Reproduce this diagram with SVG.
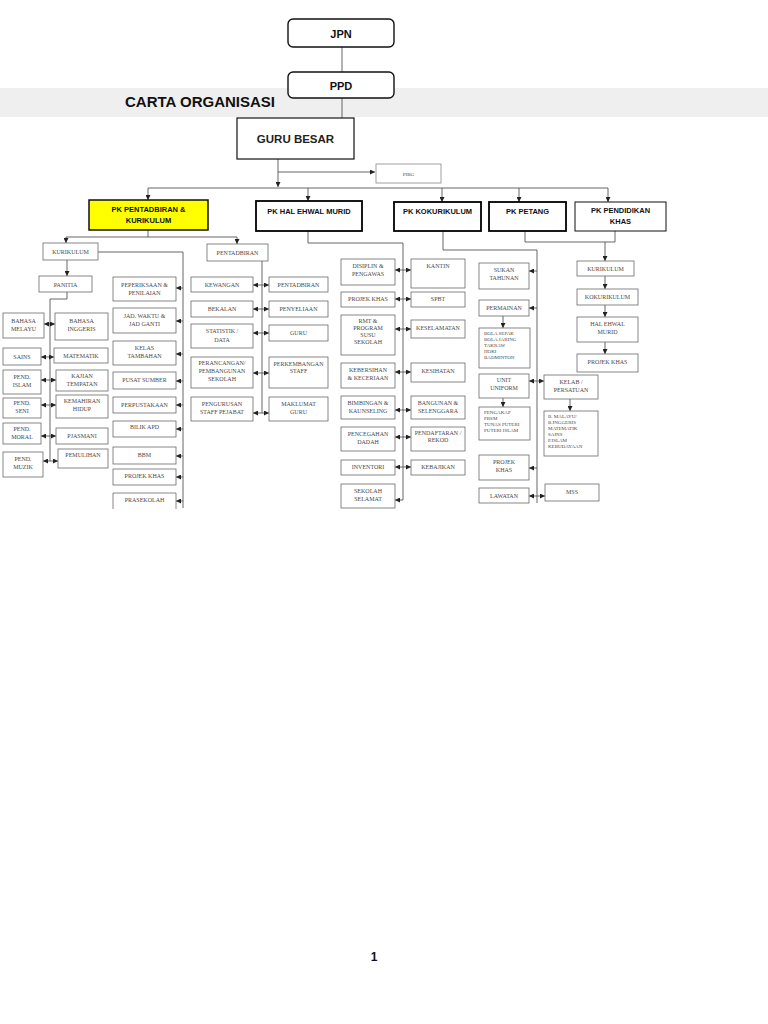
<svg xmlns="http://www.w3.org/2000/svg" width="768" height="1024" viewBox="0 0 768 1024">
<style>
.bx{fill:#fff;stroke:#6a6a6a;stroke-width:0.8}
.pk{fill:#fff;stroke:#000;stroke-width:1.8}
.t{font-family:"Liberation Serif",serif;font-size:6px;fill:#4a4a4a;text-anchor:middle}
.tl{font-family:"Liberation Serif",serif;font-size:5px;fill:#4a4a4a}
.pt{font-family:"Liberation Sans",Arial,sans-serif;font-size:7.5px;font-weight:bold;fill:#111;text-anchor:middle}
.ln{stroke:#555;stroke-width:0.9;fill:none}
.a{marker-end:url(#ah)}
.d{marker-start:url(#ah);marker-end:url(#ah)}
</style>
<defs>
<marker id="ah" viewBox="0 0 6 6" refX="6" refY="3" markerWidth="5" markerHeight="5" orient="auto-start-reverse" markerUnits="userSpaceOnUse">
<path d="M0,0 L6,3 L0,6 z" fill="#222"/>
</marker>
</defs>
<rect width="768" height="1024" fill="#fff"/>
<rect x="0" y="88" width="768" height="29" fill="#efefef"/>
<text x="125" y="107" font-family="Liberation Sans,Arial,sans-serif" font-size="15" font-weight="bold" fill="#111">CARTA ORGANISASI</text>

<g id="connectors">
<path class="ln" d="M342,47 V72 M342,98 V118"/>
<path class="ln a" d="M278,159 V187"/>
<path class="ln a" d="M278,172 H375"/>
<path class="ln" d="M148,188 H608"/>
<path class="ln a" d="M148,188 V200"/>
<path class="ln a" d="M308,188 V201"/>
<path class="ln a" d="M442,188 V202"/>
<path class="ln a" d="M519,188 V202"/>
<path class="ln a" d="M608,188 V202"/>
<!-- Pentadbiran & Kurikulum -->
<path class="ln" d="M148,230 V237 M66,237 H237"/>
<path class="ln a" d="M66,237 V243"/>
<path class="ln a" d="M237,237 V244"/>
<path class="ln a" d="M67,260 V276"/>
<path class="ln" d="M98,252 H183 V508"/>
<path class="ln a" d="M183,288 H176"/>
<path class="ln a" d="M183,321 H176"/>
<path class="ln a" d="M183,354 H176"/>
<path class="ln a" d="M183,381 H176"/>
<path class="ln a" d="M183,405 H176"/>
<path class="ln a" d="M183,429 H176"/>
<path class="ln a" d="M183,456 H176"/>
<path class="ln a" d="M183,477 H176"/>
<path class="ln a" d="M183,501 H176"/>
<path class="ln" d="M67,292 V299 H50 V461"/>
<path class="ln d" d="M44,324 H55"/>
<path class="ln d" d="M41,357 H54"/>
<path class="ln d" d="M41,380 H56"/>
<path class="ln d" d="M41,405 H56"/>
<path class="ln d" d="M41,436 H56"/>
<path class="ln d" d="M43,461 H58"/>
<path class="ln" d="M262,261 V413"/>
<path class="ln d" d="M253,285 H269"/>
<path class="ln d" d="M253,309 H269"/>
<path class="ln d" d="M253,333 H269"/>
<path class="ln d" d="M253,373 H269"/>
<path class="ln d" d="M253,413 H269"/>
<!-- HEM -->
<path class="ln" d="M308,231 V243 H403 V500"/>
<path class="ln d" d="M395,270 H411"/>
<path class="ln d" d="M395,299 H411"/>
<path class="ln d" d="M395,329 H411"/>
<path class="ln d" d="M395,372 H411"/>
<path class="ln d" d="M395,410 H411"/>
<path class="ln d" d="M395,437 H411"/>
<path class="ln d" d="M395,467 H411"/>
<path class="ln a" d="M403,500 H395"/>
<!-- Kokurikulum -->
<path class="ln" d="M443,231 V250 H537 V503"/>
<path class="ln a" d="M537,271 H529"/>
<path class="ln a" d="M537,308 H529"/>
<path class="ln a" d="M503,316 V328"/>
<path class="ln d" d="M529,381 H544"/>
<path class="ln a" d="M503,398 V407"/>
<path class="ln a" d="M537,468 H529"/>
<path class="ln d" d="M529,496 H545"/>
<path class="ln a" d="M570,399 V411"/>
<!-- Petang / Pendidikan Khas -->
<path class="ln" d="M525,231 V242 H615 V231"/>
<path class="ln a" d="M605,242 V261"/>
<path class="ln a" d="M605,276 V289"/>
<path class="ln a" d="M605,305 V317"/>
<path class="ln a" d="M605,342 V354"/>
</g>

<g id="jpn"><rect x="288" y="19" width="106" height="28" rx="5" fill="#fff" stroke="#111" stroke-width="1.4"/><text x="341" y="38" font-family="Liberation Sans,Arial,sans-serif" font-size="11" font-weight="bold" text-anchor="middle" fill="#111">JPN</text></g>
<g id="ppd"><rect x="288" y="72" width="106" height="26" rx="5" fill="#fff" stroke="#111" stroke-width="1.4"/><text x="341" y="90" font-family="Liberation Sans,Arial,sans-serif" font-size="11" font-weight="bold" text-anchor="middle" fill="#111">PPD</text></g>
<g id="guru-besar"><rect x="237" y="118" width="117" height="41" fill="#fff" stroke="#111" stroke-width="1.2"/><text x="295.5" y="143" font-family="Liberation Sans,Arial,sans-serif" font-size="11.5" font-weight="bold" text-anchor="middle" fill="#222">GURU BESAR</text></g>
<g id="pibg"><rect x="376" y="164" width="65" height="19" fill="#fff" stroke="#888" stroke-width="0.8"/><text class="tl" x="408.5" y="176" text-anchor="middle">PIBG</text></g>

<g id="pk-pentadbiran"><rect x="89" y="200" width="119" height="30" fill="#ffff00" stroke="#111" stroke-width="1.5"/><text class="pt" x="148.5" y="212">PK PENTADBIRAN &amp;</text><text class="pt" x="148.5" y="223">KURIKULUM</text></g>
<g id="pk-hem"><rect class="pk" x="256" y="201" width="106" height="30"/><text class="pt" x="309" y="214">PK HAL EHWAL MURID</text></g>
<g id="pk-koku"><rect class="pk" x="394" y="202" width="87" height="29"/><text class="pt" x="437.5" y="214">PK KOKURIKULUM</text></g>
<g id="pk-petang"><rect class="pk" x="489" y="202" width="77" height="29"/><text class="pt" x="527.5" y="214">PK PETANG</text></g>
<g id="pk-pkhas"><rect x="575" y="202" width="91" height="29" fill="#fff" stroke="#111" stroke-width="1"/><text class="pt" x="620.5" y="213">PK PENDIDIKAN</text><text class="pt" x="620.5" y="224">KHAS</text></g>

<g id="kurikulum"><rect class="bx" x="43" y="243" width="55" height="17"/><text class="t" x="70.5" y="254">KURIKULUM</text></g>
<g id="panitia"><rect class="bx" x="39" y="276" width="53" height="16"/><text class="t" x="65.5" y="286.5">PANITIA</text></g>
<g id="bm"><rect class="bx" x="3" y="313" width="41" height="25"/><text class="t" x="23.5" y="323">BAHASA</text><text class="t" x="23.5" y="331">MELAYU</text></g>
<g id="bi"><rect class="bx" x="55" y="313" width="53" height="27"/><text class="t" x="81.5" y="323">BAHASA</text><text class="t" x="81.5" y="331">INGGERIS</text></g>
<g id="sains"><rect class="bx" x="3" y="348" width="38" height="17"/><text class="t" x="22" y="359">SAINS</text></g>
<g id="matematik"><rect class="bx" x="54" y="348" width="54" height="15"/><text class="t" x="81" y="358">MATEMATIK</text></g>
<g id="islam"><rect class="bx" x="3" y="370" width="38" height="24"/><text class="t" x="22" y="379">PEND.</text><text class="t" x="22" y="387">ISLAM</text></g>
<g id="kt"><rect class="bx" x="56" y="370" width="52" height="21"/><text class="t" x="82" y="378">KAJIAN</text><text class="t" x="82" y="386">TEMPATAN</text></g>
<g id="seni"><rect class="bx" x="3" y="398" width="38" height="20"/><text class="t" x="22" y="405">PEND.</text><text class="t" x="22" y="413">SENI</text></g>
<g id="kh"><rect class="bx" x="56" y="395" width="52" height="23"/><text class="t" x="82" y="403">KEMAHIRAN</text><text class="t" x="82" y="411">HIDUP</text></g>
<g id="moral"><rect class="bx" x="3" y="423" width="38" height="21"/><text class="t" x="22" y="431">PEND.</text><text class="t" x="22" y="439">MORAL</text></g>
<g id="pj"><rect class="bx" x="56" y="428" width="52" height="16"/><text class="t" x="82" y="438">PJASMANI</text></g>
<g id="muzik"><rect class="bx" x="3" y="452" width="40" height="25"/><text class="t" x="23" y="461">PEND.</text><text class="t" x="23" y="469">MUZIK</text></g>
<g id="pemulihan"><rect class="bx" x="58" y="449" width="50" height="19"/><text class="t" x="83" y="457">PEMULIHAN</text></g>

<g id="peperiksaan"><rect class="bx" x="113" y="277" width="63" height="24"/><text class="t" x="144.5" y="287">PEPERIKSAAN &amp;</text><text class="t" x="144.5" y="295">PENILAIAN</text></g>
<g id="jadual"><rect class="bx" x="113" y="308" width="63" height="25"/><text class="t" x="144.5" y="318">JAD. WAKTU &amp;</text><text class="t" x="144.5" y="326">JAD GANTI</text></g>
<g id="kelas-tambahan"><rect class="bx" x="113" y="341" width="63" height="24"/><text class="t" x="144.5" y="350">KELAS</text><text class="t" x="144.5" y="358">TAMBAHAN</text></g>
<g id="pusat-sumber"><rect class="bx" x="113" y="372" width="63" height="17"/><text class="t" x="144.5" y="382">PUSAT SUMBER</text></g>
<g id="perpustakaan"><rect class="bx" x="113" y="397" width="63" height="16"/><text class="t" x="144.5" y="407">PERPUSTAKAAN</text></g>
<g id="bilik-apd"><rect class="bx" x="113" y="421" width="63" height="16"/><text class="t" x="144.5" y="429">BILIK APD</text></g>
<g id="bbm"><rect class="bx" x="113" y="447" width="63" height="17"/><text class="t" x="144.5" y="457">BBM</text></g>
<g id="projek-khas-1"><rect class="bx" x="113" y="469" width="63" height="16"/><text class="t" x="144.5" y="478">PROJEK KHAS</text></g>
<g id="prasekolah"><path class="bx" d="M113,509 V493 H176 V509"/><text class="t" x="144.5" y="502">PRASEKOLAH</text></g>

<g id="pentadbiran"><rect class="bx" x="207" y="244" width="61" height="17"/><text class="t" x="237.5" y="255">PENTADBIRAN</text></g>
<g id="kewangan"><rect class="bx" x="191" y="277" width="62" height="15"/><text class="t" x="222" y="287">KEWANGAN</text></g>
<g id="bekalan"><rect class="bx" x="191" y="301" width="62" height="16"/><text class="t" x="222" y="311">BEKALAN</text></g>
<g id="statistik"><rect class="bx" x="191" y="324" width="62" height="24"/><text class="t" x="222" y="333">STATISTIK /</text><text class="t" x="222" y="342">DATA</text></g>
<g id="perancangan"><rect class="bx" x="191" y="357" width="62" height="31"/><text class="t" x="222" y="365">PERANCANGAN/</text><text class="t" x="222" y="373">PEMBANGUNAN</text><text class="t" x="222" y="381">SEKOLAH</text></g>
<g id="pengurusan"><rect class="bx" x="191" y="397" width="62" height="24"/><text class="t" x="222" y="406">PENGURUSAN</text><text class="t" x="222" y="414">STAFF PEJABAT</text></g>
<g id="pentadbiran-2"><rect class="bx" x="269" y="277" width="59" height="15"/><text class="t" x="298.5" y="287">PENTADBIRAN</text></g>
<g id="penyeliaan"><rect class="bx" x="269" y="301" width="59" height="16"/><text class="t" x="298.5" y="311">PENYELIAAN</text></g>
<g id="guru"><rect class="bx" x="269" y="325" width="59" height="16"/><text class="t" x="298.5" y="335">GURU</text></g>
<g id="perkembangan"><rect class="bx" x="269" y="357" width="59" height="31"/><text class="t" x="298.5" y="366">PERKEMBANGAN</text><text class="t" x="298.5" y="373">STAFF</text></g>
<g id="maklumat"><rect class="bx" x="269" y="397" width="59" height="24"/><text class="t" x="298.5" y="406">MAKLUMAT</text><text class="t" x="298.5" y="414">GURU</text></g>

<g id="disiplin"><rect class="bx" x="341" y="259" width="54" height="26"/><text class="t" x="368" y="268">DISIPLIN &amp;</text><text class="t" x="368" y="276">PENGAWAS</text></g>
<g id="projek-khas-2"><rect class="bx" x="341" y="292" width="54" height="15"/><text class="t" x="368" y="301">PROJEK KHAS</text></g>
<g id="rmt"><rect class="bx" x="341" y="315" width="54" height="40"/><text class="t" x="368" y="323">RMT &amp;</text><text class="t" x="368" y="330">PROGRAM</text><text class="t" x="368" y="337">SUSU</text><text class="t" x="368" y="344">SEKOLAH</text></g>
<g id="kebersihan"><rect class="bx" x="341" y="363" width="54" height="25"/><text class="t" x="368" y="372">KEBERSIHAN</text><text class="t" x="368" y="380">&amp; KECERIAAN</text></g>
<g id="bimbingan"><rect class="bx" x="341" y="396" width="54" height="23"/><text class="t" x="368" y="405">BIMBINGAN &amp;</text><text class="t" x="368" y="413">KAUNSELING</text></g>
<g id="pencegahan"><rect class="bx" x="341" y="427" width="54" height="24"/><text class="t" x="368" y="436">PENCEGAHAN</text><text class="t" x="368" y="444">DADAH</text></g>
<g id="inventori"><rect class="bx" x="341" y="460" width="54" height="15"/><text class="t" x="368" y="469">INVENTORI</text></g>
<g id="sekolah-selamat"><rect class="bx" x="341" y="484" width="54" height="24"/><text class="t" x="368" y="493">SEKOLAH</text><text class="t" x="368" y="501">SELAMAT</text></g>
<g id="kantin"><rect class="bx" x="411" y="259" width="54" height="29"/><text class="t" x="438" y="268">KANTIN</text></g>
<g id="spbt"><rect class="bx" x="411" y="292" width="54" height="15"/><text class="t" x="438" y="301">SPBT</text></g>
<g id="keselamatan"><rect class="bx" x="411" y="320" width="54" height="18"/><text class="t" x="438" y="330">KESELAMATAN</text></g>
<g id="kesihatan"><rect class="bx" x="411" y="363" width="54" height="19"/><text class="t" x="438" y="373">KESIHATAN</text></g>
<g id="bangunan"><rect class="bx" x="411" y="396" width="54" height="23"/><text class="t" x="438" y="405">BANGUNAN &amp;</text><text class="t" x="438" y="413">SELENGGARA</text></g>
<g id="pendaftaran"><rect class="bx" x="411" y="427" width="54" height="24"/><text class="t" x="438" y="435">PENDAFTARAN /</text><text class="t" x="438" y="442">REKOD</text></g>
<g id="kebajikan"><rect class="bx" x="411" y="460" width="54" height="15"/><text class="t" x="438" y="469">KEBAJIKAN</text></g>

<g id="sukan"><rect class="bx" x="479" y="263" width="50" height="26"/><text class="t" x="504" y="272">SUKAN</text><text class="t" x="504" y="280">TAHUNAN</text></g>
<g id="permainan"><rect class="bx" x="479" y="300" width="50" height="16"/><text class="t" x="504" y="310">PERMAINAN</text></g>
<g id="bola"><rect class="bx" x="479" y="328" width="51" height="40"/><text class="tl" x="484" y="335">BOLA SEPAK</text><text class="tl" x="484" y="341">BOLA JARING</text><text class="tl" x="484" y="347">TAKRAW</text><text class="tl" x="484" y="353">HOKI</text><text class="tl" x="484" y="359">BADMINTON</text></g>
<g id="unit-uniform"><rect class="bx" x="479" y="374" width="50" height="24"/><text class="t" x="504" y="382">UNIT</text><text class="t" x="504" y="390">UNIFORM</text></g>
<g id="pengakap"><rect class="bx" x="479" y="407" width="51" height="33"/><text class="tl" x="484" y="414">PENGAKAP</text><text class="tl" x="484" y="420">PBSM</text><text class="tl" x="484" y="426">TUNAS PUTERI</text><text class="tl" x="484" y="432">PUTERI ISLAM</text></g>
<g id="projek-khas-3"><rect class="bx" x="479" y="455" width="50" height="25"/><text class="t" x="504" y="464">PROJEK</text><text class="t" x="504" y="472">KHAS</text></g>
<g id="lawatan"><rect class="bx" x="479" y="488" width="50" height="15"/><text class="t" x="504" y="497.5">LAWATAN</text></g>
<g id="kelas-persatuan"><rect class="bx" x="544" y="375" width="54" height="24"/><text class="t" x="571" y="384">KELAB /</text><text class="t" x="571" y="392">PERSATUAN</text></g>
<g id="subjek"><rect class="bx" x="544" y="411" width="54" height="45"/><text class="tl" x="548" y="418">B. MALAYU/</text><text class="tl" x="548" y="424">B.INGGERIS</text><text class="tl" x="548" y="430">MATEMATIK</text><text class="tl" x="548" y="436">SAINS</text><text class="tl" x="548" y="442">P.ISLAM</text><text class="tl" x="548" y="448">KEBUDAYAAN</text></g>
<g id="mss"><rect class="bx" x="545" y="484" width="54" height="17"/><text class="t" x="572" y="494">MSS</text></g>

<g id="pk-kurikulum"><rect class="bx" x="577" y="261" width="57" height="15"/><text class="t" x="605.5" y="271">KURIKULUM</text></g>
<g id="pk-kokurikulum"><rect class="bx" x="577" y="289" width="61" height="16"/><text class="t" x="607.5" y="299">KOKURIKULUM</text></g>
<g id="pk-hem-sub"><rect class="bx" x="577" y="317" width="61" height="25"/><text class="t" x="607.5" y="326">HAL EHWAL</text><text class="t" x="607.5" y="334">MURID</text></g>
<g id="pk-projek"><rect class="bx" x="577" y="354" width="61" height="18"/><text class="t" x="607.5" y="364">PROJEK KHAS</text></g>

<text x="374" y="961" font-family="Liberation Sans,Arial,sans-serif" font-size="12" font-weight="bold" text-anchor="middle" fill="#111">1</text>
</svg>
